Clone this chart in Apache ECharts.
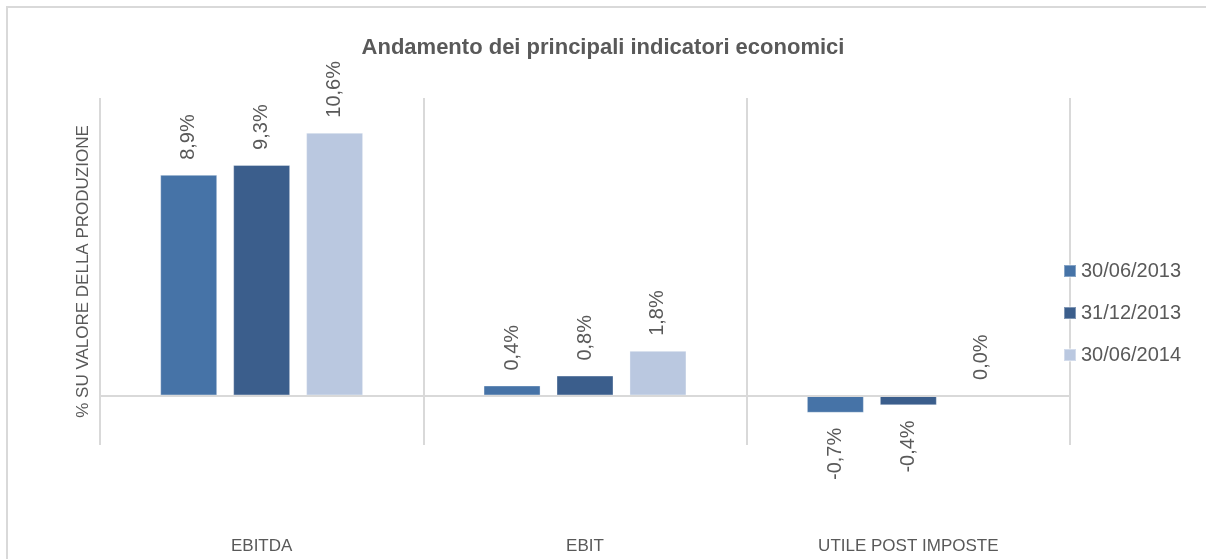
<!DOCTYPE html>
<html>
<head>
<meta charset="utf-8">
<script src="https://cdn.jsdelivr.net/npm/echarts@6/dist/echarts.min.js"></script>
<style>
  html, body { margin: 0; padding: 0; background: #fff; }
  #chart { width: 1206px; height: 559px; }
</style>
</head>
<body>
<div id="chart"></div>
<script>
var categories = ["EBITDA", "EBIT", "UTILE POST IMPOSTE"];
var seriesNames = ["30/06/2013", "31/12/2013", "30/06/2014"];
var values2013H1 = [8.9, 0.4, -0.7];
var values2013 = [9.3, 0.8, -0.4];
var values2014H1 = [10.6, 1.8, 0.0];
var colors = ["#4673a7", "#3b5e8c", "#bac8e0"];

var labelFont = "Liberation Sans";

// etichette ruotate, sopra o sotto la barra a seconda del segno
function buildData(vals) {
  return vals.map(function (v) {
    if (v < 0) {
      return { value: v, label: { position: "bottom", align: "right" } };
    }
    return { value: v };
  });
}

var allValues = [values2013H1, values2013, values2014H1];

var chart = echarts.init(document.getElementById("chart"));

var series = allValues.map(function (vals, i) {
  var s = {
    name: seriesNames[i],
    type: "bar",
    data: buildData(vals),
    barWidth: 57,
    barGap: "28%",
    itemStyle: {
      color: colors[i],
      borderColor: "rgba(255,255,255,0.35)",
      borderWidth: 1
    },
    label: {
      show: true,
      position: "top",
      rotate: 90,
      align: "left",
      verticalAlign: "middle",
      distance: 15,
      color: "#595959",
      fontFamily: labelFont,
      fontSize: 20,
      formatter: function (p) {
        return p.value.toFixed(1).replace(".", ",") + "%";
      }
    }
  };
  if (i === 0) {
    s.markLine = {
      silent: true,
      symbol: "none",
      label: { show: false },
      lineStyle: { color: "#d9d9d9", width: 2, type: "solid" },
      data: [{ yAxis: 0 }]
    };
  }
  return s;
});

var option = {
  animation: false,
  title: {
    text: "Andamento dei principali indicatori economici",
    left: "center",
    top: 32,
    textStyle: {
      fontFamily: "Liberation Sans",
      fontWeight: "bold",
      fontSize: 22,
      color: "#595959"
    }
  },
  legend: {
    orient: "vertical",
    left: 1063,
    top: 261,
    padding: 0,
    itemWidth: 12,
    itemHeight: 12,
    itemGap: 22,
    icon: "rect",
    data: seriesNames,
    textStyle: {
      fontFamily: labelFont,
      fontSize: 20,
      color: "#595959"
    }
  },
  graphic: [{
    type: "rect",
    shape: { x: 7, y: 7, width: 1220, height: 570 },
    style: { fill: "none", stroke: "#d9d9d9", lineWidth: 2 },
    silent: true,
    z: -1
  }],
  grid: {
    left: 100,
    right: 136,
    top: 98,
    bottom: 114
  },
  xAxis: {
    type: "category",
    data: categories,
    axisLine: { show: false, onZero: false },
    axisTick: { show: false },
    splitLine: { show: true, lineStyle: { color: "#d9d9d9", width: 2 } },
    axisLabel: {
      margin: 93,
      color: "#595959",
      fontFamily: labelFont,
      fontSize: 17
    }
  },
  yAxis: {
    type: "value",
    min: -2,
    max: 12,
    interval: 2,
    name: "% SU VALORE DELLA PRODUZIONE",
    nameLocation: "middle",
    nameGap: 8,
    nameTextStyle: {
      color: "#595959",
      fontFamily: labelFont,
      fontSize: 17
    },
    axisLine: { show: false },
    axisTick: { show: false },
    axisLabel: { show: false },
    splitLine: { show: false }
  },
  series: series
};

chart.setOption(option);
</script>
</body>
</html>
